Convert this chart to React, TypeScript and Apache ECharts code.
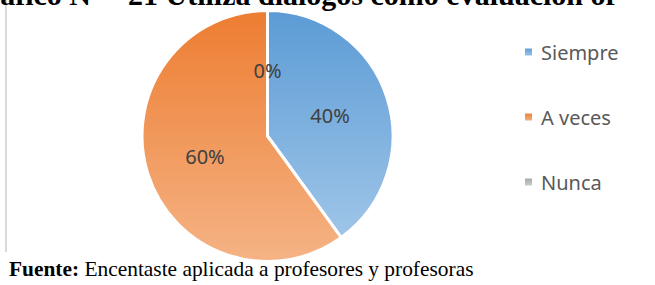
import React, { useEffect, useRef } from "react";
import * as echarts from "echarts";

const categories = ["Siempre", "A veces", "Nunca"];
const values = [40, 60, 0];
const topColors = ["#5b9bd5", "#ed7d31", "#a5a5a5"];
const bottomColors = ["#9fc5e8", "#f5b385", "#cfcfcf"];
const titleLead = "Gráfico N°";
const titleRest = "21 Utiliza diálogos como evaluación of";
const sourceBold = "Fuente:";
const sourceText = " Encentaste aplicada a profesores y profesoras";

export default function App() {
  const ref = useRef<HTMLDivElement>(null);
  useEffect(() => {
    document.body.style.margin = "0";
    const chart = echarts.init(ref.current!, null, { renderer: "svg" });
    const data = categories.map((name, i) => ({
      name,
      value: values[i],
      itemStyle: {
        color: {
          type: "linear",
          x: 0,
          y: 0,
          x2: 0,
          y2: 1,
          colorStops: [
            { offset: 0, color: topColors[i] },
            { offset: 1, color: bottomColors[i] },
          ],
        },
      },
    }));
    const titleFont = "bold 30px 'Liberation Serif'";
    chart.setOption({
      animation: false,
      backgroundColor: "#ffffff",
      legend: {
        orient: "vertical",
        left: 523,
        top: 42,
        padding: 0,
        itemWidth: 9,
        itemHeight: 9,
        itemGap: 45,
        icon: "rect",
        data: categories,
        textStyle: {
          fontFamily: "Noto Sans",
          fontSize: 20,
          lineHeight: 20,
          color: "#595959",
          padding: [0, 0, 0, 3],
        },
      },
      graphic: [
        {
          type: "rect",
          shape: { x: 5, y: 0, width: 2, height: 252 },
          style: { fill: "#d9d9d9" },
          silent: true,
        },
        {
          type: "text",
          x: 103,
          y: 9,
          style: {
            text: titleLead,
            font: titleFont,
            fill: "#000000",
            textAlign: "right",
            textVerticalAlign: "bottom",
          },
          silent: true,
        },
        {
          type: "text",
          x: 128,
          y: 9,
          style: {
            text: titleRest,
            font: titleFont,
            fill: "#000000",
            textAlign: "left",
            textVerticalAlign: "bottom",
          },
          silent: true,
        },
        {
          type: "text",
          x: 9,
          y: 258,
          style: {
            text: "{b|" + sourceBold + "}{n|" + sourceText + "}",
            textAlign: "left",
            textVerticalAlign: "top",
            rich: {
              b: {
                fontFamily: "Liberation Serif",
                fontWeight: "bold",
                fontSize: 21.4,
                fill: "#000000",
                color: "#000000",
              },
              n: {
                fontFamily: "Liberation Serif",
                fontSize: 21.4,
                fill: "#000000",
                color: "#000000",
              },
            },
          },
          silent: true,
        },
      ],
      series: [
        {
          type: "pie",
          center: [267.5, 136],
          radius: 125.5,
          startAngle: 90,
          clockwise: true,
          data,
          itemStyle: { borderColor: "#ffffff", borderWidth: 3 },
          label: {
            show: true,
            position: "inside",
            formatter: "{d}%",
            fontFamily: "Noto Sans",
            fontSize: 20,
            color: "#404040",
          },
          labelLine: { show: false },
          emphasis: { disabled: true },
        },
      ],
    });
    return () => chart.dispose();
  }, []);
  return <div ref={ref} style={{ width: 655, height: 285 }} />;
}
